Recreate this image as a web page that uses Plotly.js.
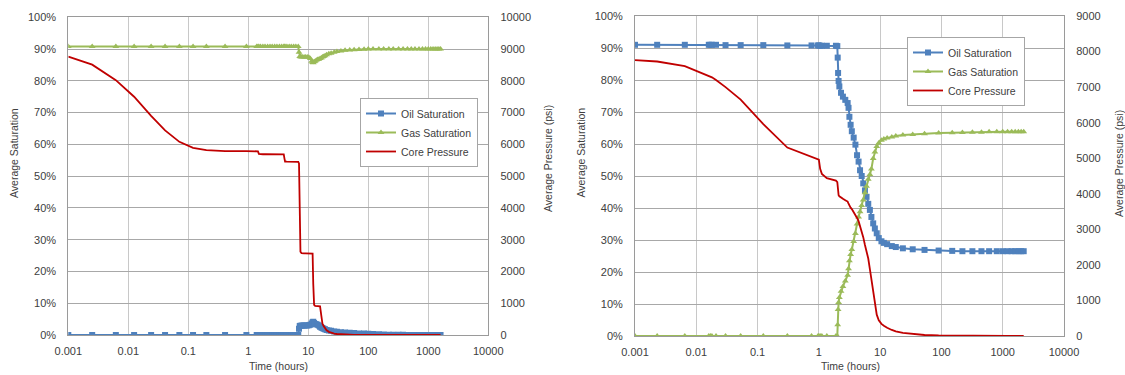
<!DOCTYPE html>
<html>
<head>
<meta charset="utf-8">
<script src="https://cdn.plot.ly/plotly-3.0.1.min.js"></script>
<style>
html,body{margin:0;padding:0;background:#fff;}
#chart{width:1125px;height:375px;}
</style>
</head>
<body>
<div id="chart"></div>
<script>
// ---------- tick labels ----------
const X_TICK_VALS = [0.001, 0.01, 0.1, 1, 10, 100, 1000, 10000];
const X_TICK_TEXT = ["0.001", "0.01", "0.1", "1", "10", "100", "1000", "10000"];
const SERIES_NAMES = ["Oil Saturation", "Gas Saturation", "Core Pressure"];

// ---------- left chart ----------
const L_TIME = [
  0.001, 0.0025, 0.0062, 0.0125, 0.024, 0.041, 0.071, 0.12, 0.2, 0.41,
  0.93, 1.38, 1.45, 1.5, 1.6, 1.75, 1.9, 2.1, 2.3, 2.5,
  2.75, 3.0, 3.3, 3.6, 3.9, 4.0, 4.1, 4.4, 4.8, 5.2,
  5.7, 6.2, 6.8, 7.0, 7.2, 7.4, 7.7, 8.0, 8.5, 9.0,
  9.6, 10.2, 10.8, 11.4, 11.8, 12.1, 12.5, 13.0, 13.6, 14.3,
  15.0, 15.7, 16.5, 17.2, 18.0, 19.0, 20.2, 22, 24, 27,
  30, 35, 41, 49, 58, 70, 85, 100, 120, 150,
  180, 220, 260, 320, 380, 450, 520, 600, 700, 800,
  900, 1000, 1100, 1200, 1300, 1400, 1500, 1600
];
const L_OIL = [
  0, 0, 0, 0, 0, 0, 0, 0, 0, 0,
  0, 0, 0, 0, 0, 0, 0, 0, 0, 0,
  0, 0, 0, 0, 0, 0, 0, 0, 0, 0,
  0, 0, 0, 0.02, 0.028, 0.029, 0.029, 0.03, 0.03, 0.03,
  0.03, 0.031, 0.032, 0.036, 0.04, 0.042, 0.038, 0.035, 0.034, 0.032,
  0.03, 0.026, 0.024, 0.022, 0.02, 0.018, 0.016, 0.014, 0.013, 0.011,
  0.0105, 0.009, 0.008, 0.007, 0.006, 0.005, 0.0045, 0.004, 0.003, 0.002,
  0.0015, 0.001, 0.001, 0.0005, 0.0005, 0, 0, 0, 0, 0,
  0, 0, 0, 0, 0, 0, 0, 0
];
const L_GAS = [
  0.908, 0.908, 0.908, 0.908, 0.908, 0.908, 0.908, 0.908, 0.908, 0.908,
  0.908, 0.908, 0.908, 0.908, 0.908, 0.908, 0.908, 0.908, 0.908, 0.908,
  0.908, 0.908, 0.908, 0.908, 0.908, 0.908, 0.908, 0.908, 0.908, 0.908,
  0.908, 0.908, 0.908, 0.89, 0.877, 0.876, 0.875, 0.875, 0.875, 0.875,
  0.875, 0.874, 0.87, 0.862, 0.858, 0.857, 0.86, 0.862, 0.865, 0.867,
  0.868, 0.87, 0.872, 0.875, 0.877, 0.879, 0.882, 0.885, 0.887, 0.89,
  0.892, 0.894, 0.896, 0.897, 0.898, 0.899, 0.8995, 0.9, 0.9, 0.9,
  0.9, 0.9, 0.9, 0.9, 0.9, 0.9, 0.9, 0.9, 0.9, 0.9,
  0.9, 0.9, 0.9, 0.9, 0.9, 0.9, 0.9, 0.9
];
const L_PRESSURE = [
  8760, 8510, 8020, 7500, 6900, 6440, 6080, 5890, 5820, 5790,
  5790, 5790, 5780, 5700, 5690, 5690, 5690, 5690, 5690, 5690,
  5690, 5690, 5690, 5690, 5685, 5560, 5460, 5455, 5450, 5450,
  5450, 5450, 5450, 5400, 3400, 2620, 2580, 2570, 2570, 2570,
  2570, 2570, 2570, 2570, 2560, 1600, 950, 915, 912, 910,
  910, 900, 600, 360, 280, 200, 150, 100, 70, 45,
  32, 22, 15, 10, 7, 5, 3, 2, 1, 1,
  1, 1, 1, 0, 0, 0, 0, 0, 0, 0,
  0, 0, 0, 0, 0, 0, 0, 0
];

// ---------- right chart ----------
const R_TIME = [
  0.001, 0.0023, 0.0065, 0.016, 0.017, 0.018, 0.021, 0.03, 0.053, 0.124,
  0.306, 0.76, 0.97, 1.0, 1.05, 1.12, 1.35, 1.9, 2.0, 2.03,
  2.06, 2.1, 2.16, 2.3, 2.47, 2.7, 2.95, 3.05, 3.15, 3.3,
  3.45, 3.7, 3.95, 4.2, 4.45, 4.7, 5.0, 5.3, 5.65, 6.0,
  6.4, 6.8, 7.2, 7.7, 8.2, 8.8, 9.5, 10.5, 11.5, 13,
  15.5, 18, 23.5, 34, 53, 90, 150, 220, 320, 450,
  600, 800, 1000, 1200, 1400, 1600, 1800, 2000, 2200
];
const R_OIL = [
  0.91, 0.91, 0.91, 0.91, 0.91, 0.91, 0.91, 0.909, 0.909, 0.909,
  0.908, 0.908, 0.908, 0.908, 0.907, 0.907, 0.907, 0.907, 0.906, 0.87,
  0.822, 0.797, 0.78, 0.76, 0.748, 0.738, 0.728, 0.713, 0.685, 0.66,
  0.64, 0.62, 0.598, 0.565, 0.545, 0.518, 0.5, 0.477, 0.455, 0.435,
  0.413, 0.394, 0.372, 0.352, 0.336, 0.321, 0.306, 0.296, 0.291, 0.287,
  0.281, 0.278, 0.274, 0.271, 0.269, 0.267, 0.266, 0.265, 0.265, 0.265,
  0.265, 0.265, 0.265, 0.265, 0.265, 0.265, 0.265, 0.265, 0.265
];
const R_GAS = [
  0, 0, 0, 0, 0, 0, 0, 0, 0, 0,
  0, 0, 0, 0, 0, 0, 0, 0, 0, 0.035,
  0.083, 0.105, 0.12, 0.14, 0.155, 0.172, 0.19, 0.21, 0.235, 0.255,
  0.27, 0.295, 0.32, 0.35, 0.372, 0.388, 0.408, 0.425, 0.448, 0.468,
  0.49, 0.505, 0.522, 0.555, 0.575, 0.592, 0.603, 0.612, 0.616, 0.619,
  0.622, 0.625, 0.628, 0.63, 0.632, 0.634, 0.635, 0.636, 0.637, 0.637,
  0.638, 0.638, 0.638, 0.638, 0.638, 0.638, 0.638, 0.638, 0.638
];
const R_PRESSURE = [
  7760, 7720, 7590, 7320, 7300, 7275, 7200, 7000, 6650, 5960,
  5300, 5050, 4985, 4960, 4700, 4560, 4440, 4370, 4330, 4150,
  4020, 3960, 3930, 3890, 3860, 3820, 3780, 3720, 3660, 3610,
  3570, 3490, 3420, 3320, 3230, 3100, 2960, 2780, 2560, 2380,
  2180, 1880, 1600, 1200, 850, 600, 440, 340, 290, 230,
  170, 130, 85, 50, 28, 15, 8, 5, 3, 2,
  1, 1, 0, 0, 0, 0, 0, 0, 0
];

// ---------- styles ----------
const FONT = "Liberation Sans, Arial, sans-serif";
const TXT = "#404040";
const OIL_C = "#4F81BD", GAS_C = "#9BBB59", PRES_C = "#C00000";
const W = 1125, H = 375;
const px = v => v / W, py = v => 1 - v / H;

function satTraces(t, oil, gas, pres, xa, ya, ya2, lg) {
  return [
    {x: t, y: oil, name: SERIES_NAMES[0], type: "scatter", mode: "lines+markers",
     xaxis: xa, yaxis: ya, legend: lg,
     line: {color: OIL_C, width: 2}, marker: {symbol: "square", size: 6, color: OIL_C}},
    {x: t, y: gas, name: SERIES_NAMES[1], type: "scatter", mode: "lines+markers",
     xaxis: xa, yaxis: ya, legend: lg,
     line: {color: GAS_C, width: 2}, marker: {symbol: "triangle-up", size: 6, color: GAS_C}},
    {x: t, y: pres, name: SERIES_NAMES[2], type: "scatter", mode: "lines",
     xaxis: xa, yaxis: ya2, legend: lg,
     line: {color: PRES_C, width: 1.8}}
  ];
}

const data = [].concat(
  satTraces(L_TIME, L_OIL, L_GAS, L_PRESSURE, "x", "y", "y2", "legend"),
  satTraces(R_TIME, R_OIL, R_GAS, R_PRESSURE, "x2", "y3", "y4", "legend2")
);

const tickFont = {family: FONT, size: 11, color: TXT};
const xBase = {
  type: "log", range: [-3, 4], tickmode: "array", tickvals: X_TICK_VALS, ticktext: X_TICK_TEXT,
  showgrid: true, gridcolor: "#C8C8C8", gridwidth: 1, showline: true, linecolor: "#9A9A9A",
  linewidth: 1, mirror: true, zeroline: false, ticks: "", tickfont: tickFont,
  ticklabelstandoff: 6, fixedrange: true
};
const yBase = {
  range: [0, 1], tickmode: "linear", tick0: 0, dtick: 0.1, tickformat: ".0%",
  showgrid: true, gridcolor: "#A8A8A8", gridwidth: 1, showline: true, linecolor: "#9A9A9A",
  linewidth: 1, zeroline: false, ticks: "", tickfont: tickFont, ticklabelstandoff: 9, fixedrange: true
};
const yRight = {
  side: "right", tickmode: "linear", tick0: 0, dtick: 1000, tickformat: "d",
  showgrid: false, showline: true, linecolor: "#9A9A9A", zeroline: false, ticks: "",
  tickfont: tickFont, ticklabelstandoff: 9, fixedrange: true
};

const legendBase = {
  bgcolor: "#FFFFFF", bordercolor: "#A6A6A6", borderwidth: 1,
  font: {family: FONT, size: 10.5, color: TXT}, itemwidth: 30, tracegroupgap: 0,
  xanchor: "right", yanchor: "top", itemclick: false, itemdoubleclick: false
};

const titleFont = {family: FONT, size: 10.5, color: TXT};
function ann(text, x, y, angle) {
  return {text: text, x: px(x), y: py(y), xref: "paper", yref: "paper",
          showarrow: false, textangle: angle, font: titleFont,
          xanchor: "center", yanchor: "middle"};
}

const layout = {
  width: W, height: H,
  margin: {l: 0, r: 0, t: 0, b: 0},
  paper_bgcolor: "#FFFFFF", plot_bgcolor: "#FFFFFF",
  font: {family: FONT, size: 11, color: TXT},
  showlegend: true,
  xaxis: Object.assign({}, xBase, {domain: [px(68.3), px(488.3)], anchor: "y"}),
  yaxis: Object.assign({}, yBase, {domain: [py(335), py(17.3)], anchor: "x"}),
  yaxis2: Object.assign({}, yRight, {overlaying: "y", anchor: "x", range: [0, 10000]}),
  xaxis2: Object.assign({}, xBase, {domain: [px(635), px(1064)], anchor: "y3"}),
  yaxis3: Object.assign({}, yBase, {domain: [py(336), py(16)], anchor: "x2"}),
  yaxis4: Object.assign({}, yRight, {overlaying: "y3", anchor: "x2", range: [0, 9000]}),
  legend: Object.assign({}, legendBase, {x: px(478), y: py(98)}),
  legend2: Object.assign({}, legendBase, {x: px(1025), y: py(37)}),
  annotations: [
    ann("Average Saturation", 14, 153, -90),
    ann("Average Pressure (psi)", 548, 159, -90),
    ann("Time (hours)", 278, 366, 0),
    ann("Average Saturation", 580.5, 153, -90),
    ann("Average Pressure (psi)", 1119, 164, -90),
    ann("Time (hours)", 850, 366, 0)
  ]
};

Plotly.newPlot("chart", data, layout, {displayModeBar: false, staticPlot: true, responsive: false});
</script>
</body>
</html>
